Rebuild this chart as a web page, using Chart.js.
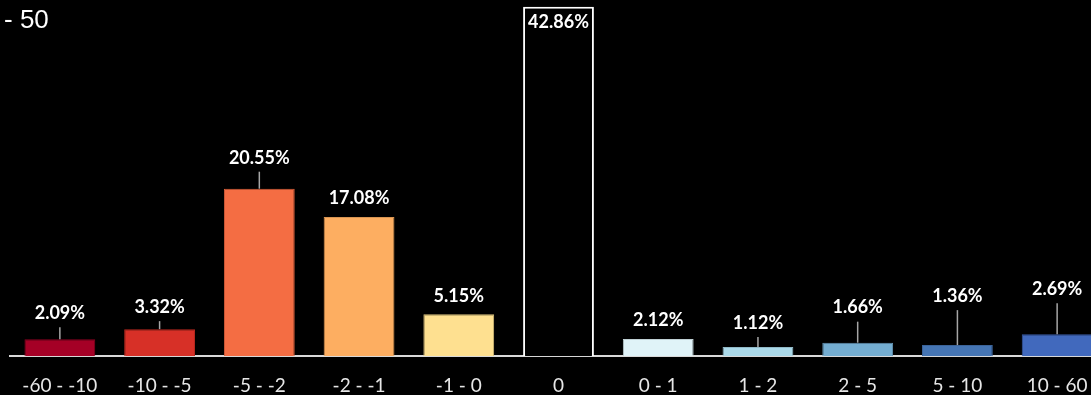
<!DOCTYPE html>
<html>
<head>
<meta charset="utf-8">
<script src="https://cdn.jsdelivr.net/npm/chart.js@4/dist/chart.umd.min.js"></script>
<style>
    html, body { margin: 0; padding: 0; background: #000; overflow: hidden; }
    #wrap { position: relative; width: 1091px; height: 395px; overflow: hidden; }
    #box { position: absolute; left: 0; top: 0; width: 1108px; height: 416px; }
    #title { position: absolute; left: 4px; top: 4px; color: #fff; font: 26px "Liberation Sans", Arial, sans-serif; }
</style>
</head>
<body>
<div id="wrap">
    <div id="box"><canvas id="distChart"></canvas></div>
    <div id="title">- 50</div>
</div>
<script>
// Bins and share of observations (%)
const binLabels = ['-60 - -10', '-10 - -5', '-5 - -2', '-2 - -1', '-1 - 0', '0', '0 - 1', '1 - 2', '2 - 5', '5 - 10', '10 - 60'];
const shareValues = [2.09, 3.32, 20.55, 17.08, 5.15, 42.86, 2.12, 1.12, 1.66, 1.36, 2.69];

// diverging palette, the zero bin is drawn hollow
const fillColors = ['#a50026', '#d73027', '#f46d43', '#fdae61', '#fee090', '#000000', '#e0f3f8', '#abd9e9', '#74add1', '#4575b4', '#4169bd'];
const edgeColors = ['#8c0020', '#b8281f', '#d65d39', '#d99552', '#d9c07a', '#ffffff', '#bfd0d4', '#91b9c7', '#6393b2', '#3b6399', '#375aa3'];

// how far each value label sits above its bar (px); negative = inside the bar
const labelLift = [26, 22, 31, 19, 18, -15, 19, 24, 35, 49, 45];

const valueLabels = {
    id: 'valueLabels',
    afterDatasetsDraw(chart) {
        const ctx = chart.ctx;
        const meta = chart.getDatasetMeta(0);
        ctx.save();
        ctx.font = 'bold 18px Lato, "Open Sans", sans-serif';
        ctx.textAlign = 'center';
        ctx.textBaseline = 'middle';
        meta.data.forEach((bar, i) => {
            const y = bar.y - labelLift[i];
            // leader line for the labels pushed further up
            if (labelLift[i] >= 22) {
                ctx.strokeStyle = '#a6a6a6';
                ctx.lineWidth = 1.5;
                ctx.beginPath();
                ctx.moveTo(bar.x, y + 14);
                ctx.lineTo(bar.x, bar.y);
                ctx.stroke();
            }
            ctx.fillStyle = '#ffffff';
            ctx.fillText(shareValues[i].toFixed(2) + '%', bar.x, y);
        });
        ctx.restore();
    }
};

new Chart(document.getElementById('distChart'), {
    type: 'bar',
    data: {
        labels: binLabels,
        datasets: [{
            data: shareValues,
            backgroundColor: fillColors,
            borderColor: edgeColors,
            borderWidth: shareValues.map((v, i) => i === 5 ? 2 : 1),
            borderSkipped: 'bottom',
            categoryPercentage: 1,
            barPercentage: 0.71
        }]
    },
    options: {
        responsive: true,
        maintainAspectRatio: false,
        animation: false,
        layout: { padding: { left: 10, right: 1, top: 0, bottom: 1 } },
        plugins: {
            legend: { display: false },
            tooltip: { enabled: false }
        },
        scales: {
            y: {
                display: false,
                min: 0,
                max: 43.7
            },
            x: {
                grid: { display: false, drawTicks: false },
                border: { display: true, color: '#d9d9d9', width: 2 },
                ticks: {
                    color: '#e6e6e6',
                    padding: 18,
                    font: { family: 'Lato, "Open Sans", sans-serif', size: 19 },
                    maxRotation: 0,
                    autoSkip: false
                }
            }
        }
    },
    plugins: [valueLabels]
});
</script>
</body>
</html>
